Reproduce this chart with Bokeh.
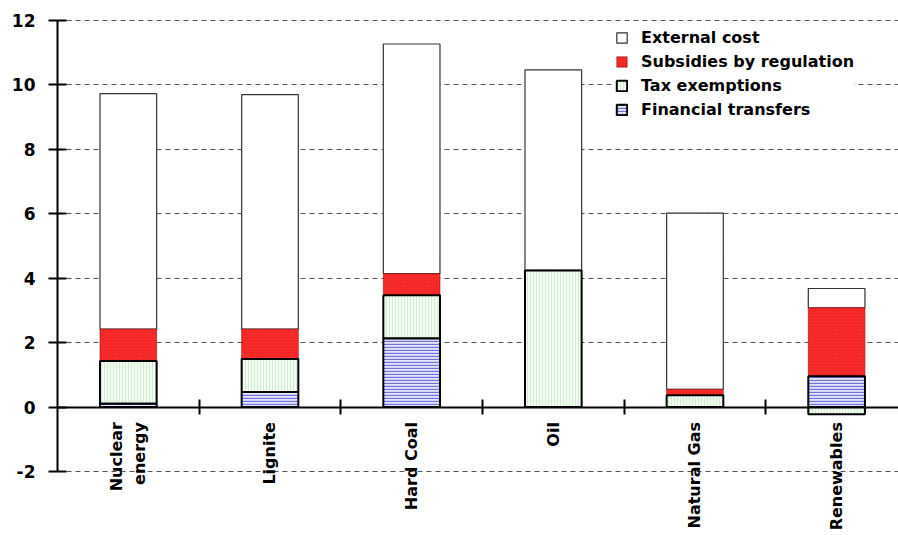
import math
import numpy as np
from bokeh.plotting import figure
from bokeh.models import (ColumnDataSource, Range1d, LinearAxis, FixedTicker, Grid,
                          Legend, LegendItem)
from bokeh.embed import file_html
from bokeh.resources import INLINE

# Energy sources and the cost components stacked for each of them
categories = ["Nuclear\nenergy", "Lignite", "Hard Coal", "Oil", "Natural Gas", "Renewables"]
financial_transfers = [0.10, 0.47, 2.13, 0.00, 0.00, 0.96]
tax_exemptions = [1.33, 1.02, 1.34, 4.24, 0.37, -0.22]
subsidies_by_regulation = [0.99, 0.93, 0.67, 0.00, 0.18, 2.12]
external_cost = [7.31, 7.28, 7.13, 6.23, 5.47, 0.60]
y_ticks = [-2, 0, 2, 4, 6, 8, 10, 12]

n = len(categories)
centers = [i + 0.5 for i in range(n)]

# stack positive parts upward from zero, negative parts downward
pos = np.zeros(n)
neg = np.zeros(n)
spans = {}
for name, vals in [("fin", financial_transfers), ("tax", tax_exemptions),
                   ("sub", subsidies_by_regulation), ("ext", external_cost)]:
    v = np.array(vals, dtype=float)
    bottom = np.where(v >= 0, pos, neg + v)
    top = np.where(v >= 0, pos + v, neg)
    pos = np.where(v >= 0, pos + v, pos)
    neg = np.where(v < 0, neg + v, neg)
    spans[name] = ColumnDataSource(dict(x=centers, bottom=bottom, top=top))

W, H = 898, 535
left = 57
px_per_unit = 32.2
zero_px = 406.6
cat_px = 141.66

p = figure(width=W, height=H, output_backend="svg", toolbar_location=None,
           x_range=Range1d(0, (W - left) / cat_px),
           y_range=Range1d(-(H - zero_px) / px_per_unit, 12 + 20 / px_per_unit),
           x_axis_location=None, y_axis_location=None,
           min_border_left=left, min_border_right=0, min_border_top=0, min_border_bottom=0)
p.outline_line_color = None
p.background_fill_color = "white"
p.border_fill_color = "white"
for g in p.grid:
    g.visible = False

# dashed horizontal gridlines
grid = Grid(dimension=1, ticker=FixedTicker(ticks=[t for t in y_ticks if t != 0]),
            grid_line_color="#555555", grid_line_width=1, grid_line_dash="5 4")
p.add_layout(grid)

bw = 0.4
r_ext = p.vbar(x="x", bottom="bottom", top="top", width=bw, source=spans["ext"],
               fill_color="white", line_color="#333333", line_width=1.2)
r_sub = p.vbar(x="x", bottom="bottom", top="top", width=bw, source=spans["sub"],
               fill_color="#FF2B2B", line_color="#8A1A1A", line_width=0.6,
               hatch_pattern="dot", hatch_color="#B01515", hatch_scale=3, hatch_alpha=0.6)
r_tax = p.vbar(x="x", bottom="bottom", top="top", width=bw, source=spans["tax"],
               fill_color="#F2FAF2", line_color="black", line_width=2,
               hatch_pattern="vertical_line", hatch_color="#B8E0B8", hatch_scale=3,
               hatch_weight=1, hatch_alpha=0.55)
r_fin = p.vbar(x="x", bottom="bottom", top="top", width=bw, source=spans["fin"],
               fill_color="#E4E4FA", line_color="black", line_width=2,
               hatch_pattern="horizontal_line", hatch_color="#7070E0", hatch_scale=3,
               hatch_weight=1.3)

# value axis on the left
yaxis = LinearAxis(ticker=FixedTicker(ticks=y_ticks), bounds=(-2, 12),
                   axis_line_width=2, axis_line_color="black",
                   major_tick_line_width=2, major_tick_line_color="black",
                   major_tick_in=9, major_tick_out=9, minor_tick_line_color=None,
                   major_label_standoff=13,
                   major_label_overrides={t: str(t) for t in y_ticks},
                   major_label_text_font="DejaVu Sans", major_label_text_font_style="bold",
                   major_label_text_font_size="17px", major_label_text_color="black")
p.add_layout(yaxis, "left")

# category axis crossing at zero: tick marks between categories
xaxis = LinearAxis(fixed_location=0, ticker=FixedTicker(ticks=list(range(1, n))),
                   axis_line_width=2, axis_line_color="black",
                   major_tick_line_width=2, major_tick_line_color="black",
                   major_tick_in=8, major_tick_out=7, minor_tick_line_color=None,
                   major_label_text_color=None)
p.add_layout(xaxis, "below")

# category names under each bar
label_axis = LinearAxis(fixed_location=0, ticker=FixedTicker(ticks=centers),
                        axis_line_color=None, major_tick_line_color=None,
                        minor_tick_line_color=None, major_tick_in=0, major_tick_out=0,
                        major_label_standoff=15, major_label_orientation=math.pi / 2,
                        major_label_overrides={c: name for c, name in zip(centers, categories)},
                        major_label_text_font="DejaVu Sans", major_label_text_font_style="bold",
                        major_label_text_font_size="16px", major_label_text_color="black")
p.add_layout(label_axis, "below")

legend = Legend(items=[LegendItem(label="External cost", renderers=[r_ext]),
                       LegendItem(label="Subsidies by regulation", renderers=[r_sub]),
                       LegendItem(label="Tax exemptions", renderers=[r_tax]),
                       LegendItem(label="Financial transfers", renderers=[r_fin])],
                location=(558, 416), padding=5, spacing=4, margin=0,
                glyph_width=13, glyph_height=13, label_height=20, label_standoff=13,
                border_line_color=None, background_fill_color="white", background_fill_alpha=1,
                label_text_font="DejaVu Sans", label_text_font_style="bold",
                label_text_font_size="16px", label_text_color="black")
p.add_layout(legend)

open("out.html", "w").write(file_html(p, INLINE))
